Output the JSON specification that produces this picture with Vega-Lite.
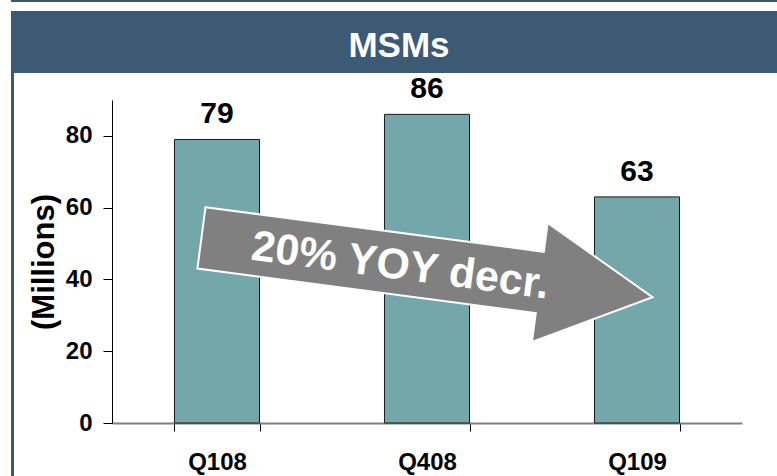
{
  "$schema": "https://vega.github.io/schema/vega-lite/v6.json",
  "padding": {"left": 11, "top": 0, "right": 0, "bottom": 0},
  "autosize": {"type": "pad"},
  "background": "white",
  "spacing": 0,
  "config": {
    "view": {"stroke": null},
    "font": "Liberation Sans",
    "concat": {"spacing": 0}
  },
  "vconcat": [
    {"width": 766, "height": 2, "view": {"fill": "#3d5a74"}, "data": {"values": []}, "mark": "text"},
    {"width": 766, "height": 9, "data": {"values": []}, "mark": "text"},
    {
      "width": 766, "height": 62, "view": {"fill": "#3d5a74"},
      "data": {"values": [{"title": "MSMs"}]},
      "mark": {"type": "text", "fontSize": 35, "fontWeight": "bold", "color": "white", "baseline": "alphabetic", "align": "center", "dy": 15, "dx": 5},
      "encoding": {"text": {"field": "title"}}
    },
    {
      "spacing": 0,
      "hconcat": [
        {"width": 3, "height": 403, "view": {"fill": "#3d5a74"}, "data": {"values": []}, "mark": "text"},
        {
          "width": 763, "height": 403,
          "data": {"values": [
            {"quarter": "Q108", "msms": 79},
            {"quarter": "Q408", "msms": 86},
            {"quarter": "Q109", "msms": 63}
          ]},
          "encoding": {
            "x": {
              "field": "quarter", "type": "nominal", "sort": null,
              "scale": {"range": [98, 728], "paddingInner": 0.595, "paddingOuter": 0.2975},
              "axis": {"title": null, "orient": "bottom", "offset": -53, "domainColor": "#808080", "domainWidth": 2, "tickBand": "extent", "tickColor": "black", "tickSize": 8, "tickWidth": 1, "labelFontSize": 24, "labelFontWeight": "bold", "labelColor": "black", "labelPadding": 19, "labelAngle": 0}
            },
            "y": {
              "field": "msms", "type": "quantitative",
              "scale": {"domain": [0, 90], "range": [350, 27], "nice": false},
              "axis": {"title": "(Millions)", "offset": -98, "values": [0, 20, 40, 60, 80], "grid": false, "domainColor": "black", "domainWidth": 1, "tickColor": "black", "tickSize": 9, "tickWidth": 1, "labelFontSize": 24, "labelFontWeight": "bold", "labelColor": "black", "labelPadding": 11, "titleFontSize": 31, "titleFontWeight": "bold", "titleColor": "black", "titlePadding": 5}
            }
          },
          "layer": [
            {"mark": {"type": "bar", "fill": "#74a7aa", "stroke": "#1a1a1a", "strokeWidth": 1}},
            {
              "mark": {"type": "text", "fontSize": 30, "fontWeight": "bold", "color": "black", "baseline": "alphabetic", "dy": -16},
              "encoding": {"text": {"field": "msms"}}
            },
            {
              "transform": [{"filter": "datum.quarter == 'Q408'"}],
              "mark": {"type": "point", "shape": "M -1 -0.136 L 0.5 -0.136 L 0.5 -0.264 L 1 0 L 0.5 0.264 L 0.5 0.136 L -1 0.136 Z", "size": 207025, "angle": 7.5, "filled": true, "fill": "#808080", "stroke": "white", "strokeWidth": 2, "opacity": 1},
              "encoding": {"y": {"datum": 43.3, "type": "quantitative"}}
            },
            {
              "transform": [{"filter": "datum.quarter == 'Q408'"}],
              "mark": {"type": "text", "angle": 7.5, "fontSize": 43, "fontWeight": "bold", "color": "white", "align": "center", "baseline": "middle", "dx": -27},
              "encoding": {"y": {"datum": 42.7, "type": "quantitative"}, "text": {"value": "20% YOY decr."}}
            }
          ]
        }
      ]
    }
  ]
}
